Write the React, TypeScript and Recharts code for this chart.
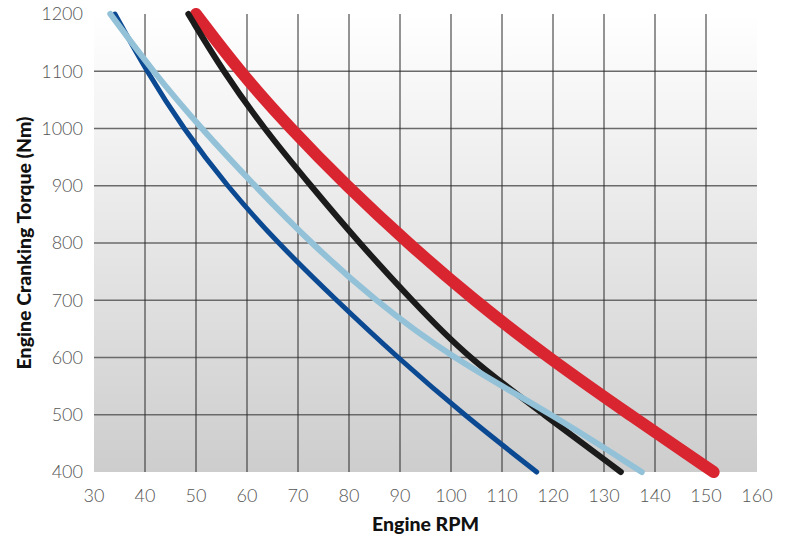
import { LineChart, Line, XAxis, YAxis, ReferenceLine, ReferenceArea, Label } from "recharts";

const torqueLevels = [1200, 1100, 1000, 900, 800, 700, 600, 500, 400];
const rpmDarkBlue = [34.1, 40.3, 47.5, 56, 66, 77.5, 89.5, 102.5, 116.8];
const rpmLightBlue = [33.2, 41.5, 51, 61.5, 72.5, 85, 100, 120, 137.4];
const rpmBlack = [48.5, 55.3, 63.3, 72.5, 82, 92.3, 103.2, 118.3, 133.3];
const rpmRed = [50, 58.5, 68.5, 79.5, 91.5, 104.5, 119, 135, 151.5];

const xTicks = [30, 40, 50, 60, 70, 80, 90, 100, 110, 120, 130, 140, 150, 160];
const yTicks = [400, 500, 600, 700, 800, 900, 1000, 1100, 1200];

const toSeries = (rpms: number[]) =>
  rpms.map((rpm, i) => ({ rpm, torque: torqueLevels[i] })).sort((a, b) => a.rpm - b.rpm);

const series = [
  { name: "red", data: toSeries(rpmRed), color: "#d92530", width: 12 },
  { name: "black", data: toSeries(rpmBlack), color: "#1b1b1b", width: 6 },
  { name: "darkBlue", data: toSeries(rpmDarkBlue), color: "#0b4a92", width: 5 },
  { name: "lightBlue", data: toSeries(rpmLightBlue), color: "#93c2d8", width: 6 },
];

const tickStyle = { fill: "#555", fontSize: 18, fontFamily: "Lato", fontWeight: 300 };
const titleFont = { fill: "#111", fontSize: 19.5, fontFamily: "Lato", fontWeight: 900 };

export default function App() {
  return (
    <div style={{ position: "absolute", left: 0, top: 0 }}>
      <LineChart width={791} height={535} margin={{ top: 14, right: 34, left: 0, bottom: 0 }}>
        <defs>
          <linearGradient id="plotBg" x1="0" y1="0" x2="0" y2="1">
            <stop offset="0%" stopColor="#ffffff" />
            <stop offset="100%" stopColor="#cdcdcd" />
          </linearGradient>
        </defs>
        <XAxis
          dataKey="rpm"
          type="number"
          domain={[30, 160]}
          ticks={xTicks}
          axisLine={false}
          tickLine={false}
          tickMargin={11}
          height={63}
          tick={tickStyle}
        >
          <Label
            content={({ viewBox }: any) => (
              <text
                x={viewBox.x + viewBox.width / 2}
                y={viewBox.y + 51}
                textAnchor="middle"
                dominantBaseline="central"
                style={titleFont}
              >
                Engine RPM
              </text>
            )}
          />
        </XAxis>
        <YAxis
          dataKey="torque"
          type="number"
          domain={[400, 1200]}
          ticks={yTicks}
          axisLine={false}
          tickLine={false}
          tickMargin={5}
          width={94}
          tick={tickStyle}
        >
          <Label
            content={({ viewBox }: any) => {
              const cx = 23;
              const cy = viewBox.y + viewBox.height / 2;
              return (
                <text
                  x={cx}
                  y={cy}
                  transform={`rotate(-90, ${cx}, ${cy})`}
                  textAnchor="middle"
                  dominantBaseline="central"
                  style={titleFont}
                >
                  Engine Cranking Torque (Nm)
                </text>
              );
            }}
          />
        </YAxis>
        <ReferenceArea x1={30} x2={160} y1={400} y2={1200} fill="url(#plotBg)" fillOpacity={1} stroke="none" />
        {yTicks.slice(1, -1).map((v) => (
          <ReferenceLine key={`h${v}`} y={v} stroke="#6a6a6a" strokeWidth={1.5} />
        ))}
        {xTicks.slice(1, -1).map((v) => (
          <ReferenceLine key={`v${v}`} x={v} stroke="#2a2a2a" strokeWidth={1} />
        ))}
        {series.map((s) => (
          <Line
            key={s.name}
            data={s.data}
            dataKey="torque"
            type="basis"
            stroke={s.color}
            strokeWidth={s.width}
            strokeLinecap="round"
            dot={false}
            activeDot={false}
            isAnimationActive={false}
          />
        ))}
      </LineChart>
    </div>
  );
}
